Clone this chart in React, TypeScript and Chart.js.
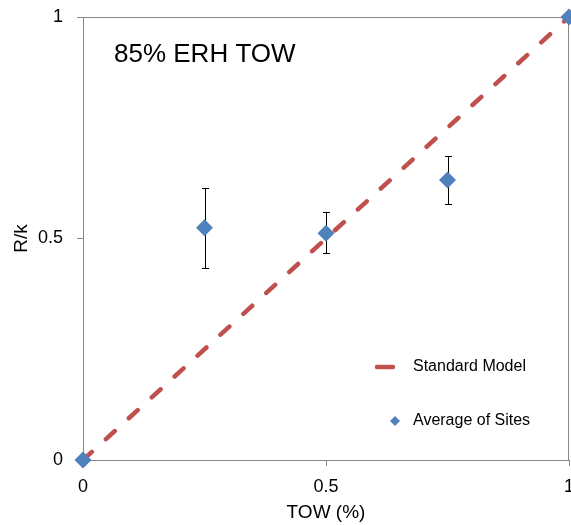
import React, { useEffect, useRef } from 'react';
import { Chart, registerables } from 'chart.js';

Chart.register(...registerables);

// Site averages with their spread (low / high), TOW fraction on x
const siteX = [0, 0.25, 0.5, 0.75, 1];
const siteY = [0, 0.524, 0.512, 0.632, 1];
const siteLow: (number | null)[] = [null, 0.433, 0.467, 0.578, null];
const siteHigh: (number | null)[] = [null, 0.614, 0.56, 0.686, null];

// Standard model: straight proportional line
const modelX = [0, 1];
const modelY = [0, 1];

const axisTicks = [0, 0.5, 1];
const seriesNames = ['Standard Model', 'Average of Sites'];
const panelTitle = '85% ERH TOW';
const xTitle = 'TOW (%)';
const yTitle = 'R/k';

const FONT = "'Liberation Sans', Arial, sans-serif";
const RED = '#C0504D';
const BLUE = '#4F81BD';
const AXIS = '#878787';
const DASH = [12, 19];

// The canvas runs a little past the visible frame so the right-hand
// edge marks (last tick label, end diamond) get cut off at the border.
const VIEW_W = 571;
const VIEW_H = 525;
const CANVAS_W = 600;

function diamond(ctx: CanvasRenderingContext2D, cx: number, cy: number, r: number) {
  ctx.beginPath();
  ctx.moveTo(cx - r, cy);
  ctx.lineTo(cx, cy - r);
  ctx.lineTo(cx + r, cy);
  ctx.lineTo(cx, cy + r);
  ctx.closePath();
  ctx.fill();
}

const errorBars = {
  id: 'errorBars',
  beforeDatasetDraw(chart: any, args: any) {
    if (args.index !== 1) return;
    const { ctx, scales } = chart;
    const x = scales.x;
    const y = scales.y;
    ctx.save();
    ctx.strokeStyle = '#000';
    ctx.lineWidth = 1;
    siteX.forEach((v, i) => {
      const lo = siteLow[i];
      const hi = siteHigh[i];
      if (lo == null || hi == null) return;
      const px = Math.round(x.getPixelForValue(v)) + 0.5;
      const top = Math.round(y.getPixelForValue(hi)) + 0.5;
      const bot = Math.round(y.getPixelForValue(lo)) + 0.5;
      ctx.beginPath();
      ctx.moveTo(px, top);
      ctx.lineTo(px, bot);
      ctx.moveTo(px - 3.5, top);
      ctx.lineTo(px + 3.5, top);
      ctx.moveTo(px - 3.5, bot);
      ctx.lineTo(px + 3.5, bot);
      ctx.stroke();
    });
    ctx.restore();
  },
};

const plotFrame = {
  id: 'plotFrame',
  beforeDatasetsDraw(chart: any) {
    const { ctx, chartArea } = chart;
    const l = Math.round(chartArea.left) + 0.5;
    const t = Math.round(chartArea.top) + 0.5;
    const r = Math.round(chartArea.right) - 0.5;
    const b = Math.round(chartArea.bottom) + 0.5;
    ctx.save();
    ctx.strokeStyle = AXIS;
    ctx.lineWidth = 1;
    ctx.beginPath();
    ctx.moveTo(l, t);
    ctx.lineTo(r, t);
    ctx.lineTo(r, b);
    ctx.stroke();
    ctx.restore();
  },
};

const panelDecor = {
  id: 'panelDecor',
  afterDatasetsDraw(chart: any) {
    const { ctx, chartArea } = chart;
    ctx.save();
    // panel title
    ctx.fillStyle = '#000';
    ctx.font = `26px ${FONT}`;
    ctx.textAlign = 'left';
    ctx.textBaseline = 'alphabetic';
    ctx.fillText(panelTitle, chartArea.left + 31, chartArea.top + 45);

    // legend
    const lx = chartArea.right - 191;
    const ly1 = chartArea.bottom - 93;
    const ly2 = chartArea.bottom - 39;
    ctx.strokeStyle = RED;
    ctx.lineWidth = 4.5;
    ctx.lineCap = 'round';
    ctx.beginPath();
    ctx.moveTo(lx - 1, ly1);
    ctx.lineTo(lx + 15, ly1);
    ctx.stroke();
    ctx.fillStyle = BLUE;
    diamond(ctx, lx + 17, ly2, 5);

    ctx.fillStyle = '#000';
    ctx.font = `16px ${FONT}`;
    ctx.textBaseline = 'middle';
    ctx.fillText(seriesNames[0], lx + 35, ly1);
    ctx.fillText(seriesNames[1], lx + 35, ly2);
    ctx.restore();
  },
};

export default function App() {
  const canvasRef = useRef<HTMLCanvasElement | null>(null);

  useEffect(() => {
    const canvas = canvasRef.current;
    if (!canvas) return;

    const fixedTicks = (s: any) => {
      s.ticks = axisTicks.map((value) => ({ value }));
    };

    const chart = new Chart(canvas, {
      type: 'scatter',
      data: {
        datasets: [
          {
            label: seriesNames[0],
            data: modelX.map((x, i) => ({ x, y: modelY[i] })),
            showLine: true,
            borderColor: RED,
            backgroundColor: RED,
            borderWidth: 4.5,
            borderDash: DASH,
            borderCapStyle: 'round',
            pointRadius: 0,
            pointHoverRadius: 0,
            order: 1,
          } as any,
          {
            label: seriesNames[1],
            data: siteX.map((x, i) => ({ x, y: siteY[i] })),
            showLine: false,
            pointStyle: 'rectRot',
            pointRadius: 8.5,
            pointHoverRadius: 8.5,
            backgroundColor: BLUE,
            borderColor: BLUE,
            borderWidth: 0,
            clip: false,
            order: 0,
          } as any,
        ],
      },
      options: {
        animation: false,
        responsive: false,
        maintainAspectRatio: false,
        devicePixelRatio: 1,
        events: [],
        layout: { padding: { top: 17, right: CANVAS_W - 569, left: 0, bottom: 0 } },
        plugins: {
          legend: { display: false },
          tooltip: { enabled: false },
          title: { display: false },
        },
        scales: {
          x: {
            type: 'linear',
            min: 0,
            max: 1,
            afterBuildTicks: fixedTicks,
            afterFit: (s: any) => {
              s.height = 65;
            },
            ticks: {
              color: '#000',
              font: { family: FONT, size: 18 },
              padding: 10,
              maxRotation: 0,
              autoSkip: false,
              callback: (v: any) => String(v),
            },
            grid: {
              display: true,
              drawOnChartArea: false,
              drawTicks: true,
              tickLength: 6,
              color: AXIS,
              lineWidth: 1,
            },
            border: { display: true, color: AXIS, width: 1 },
            title: {
              display: true,
              text: xTitle,
              color: '#000',
              font: { family: FONT, size: 19 },
              padding: { top: 0, bottom: 1 },
            },
          },
          y: {
            type: 'linear',
            min: 0,
            max: 1,
            afterBuildTicks: fixedTicks,
            afterFit: (s: any) => {
              s.width = 83;
              s.paddingTop = 0;
              s.paddingBottom = 0;
            },
            ticks: {
              color: '#000',
              font: { family: FONT, size: 18 },
              padding: 14,
              autoSkip: false,
              callback: (v: any) => String(v),
            },
            grid: {
              display: true,
              drawOnChartArea: false,
              drawTicks: true,
              tickLength: 6,
              color: AXIS,
              lineWidth: 1,
            },
            border: { display: true, color: AXIS, width: 1 },
            title: {
              display: true,
              text: yTitle,
              color: '#000',
              font: { family: FONT, size: 19 },
              padding: { top: 10, bottom: 0 },
            },
          },
        },
      },
      plugins: [plotFrame, errorBars, panelDecor],
    });

    return () => chart.destroy();
  }, []);

  return (
    <div
      style={{
        position: 'fixed',
        left: 0,
        top: 0,
        width: VIEW_W,
        height: VIEW_H,
        background: '#fff',
        overflow: 'hidden',
      }}
    >
      <canvas ref={canvasRef} width={CANVAS_W} height={VIEW_H} style={{ display: 'block' }} />
    </div>
  );
}
